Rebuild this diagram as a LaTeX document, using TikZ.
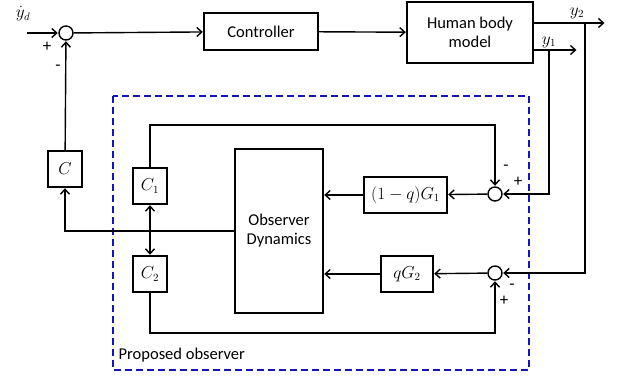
\documentclass[tikz,border=0pt]{standalone}
\usepackage{fontspec}
\setmainfont{Carlito}
\usetikzlibrary{arrows.meta}

\begin{document}
\begin{tikzpicture}[x=1pt,y=-1pt,shorten >=0.5pt,line width=1.4pt,>={Straight Barb[length=5pt,width=9pt]},
    font=\fontsize{16.5}{19}\selectfont]
    \tikzstyle{block}=[rectangle,draw=black,fill=white,minimum height=36pt,inner sep=2pt,align=center]
    \tikzstyle{sum}=[circle,draw=black,fill=white,minimum size=14pt,inner sep=0pt]
    \tikzstyle{sign}=[inner sep=0pt,font=\fontsize{17}{19}\selectfont]
    \tikzstyle{mathlbl}=[font=\fontsize{16}{18}\selectfont]
    \useasboundingbox (0,0) rectangle (619,380);

    % proposed observer frame
    \draw[line width=1.5pt,color={rgb,255:red,20;green,20;blue,190},dash pattern=on 7pt off 4pt]
        (113,96) rectangle (529,370);
    \node[anchor=west,inner sep=0pt] (po) at (118,355) {Proposed observer};

    % summing junctions
    \foreach \num/\x/\y in {0/66/33, 1/495/194, 2/495/273}
        \node[sum] (S-\num) at (\x,\y) {};

    % blocks
    \node[block,minimum width=114pt,minimum height=37pt] (ctrl) at (261,31.5) {Controller};
    \node[block,minimum width=126pt,minimum height=61pt] (hbm) at (470,32.5) {Human body\\model};
    \node[block,minimum width=88pt,minimum height=164pt] (obs) at (279,231) {Observer\\Dynamics};
    \node[block,mathlbl,minimum width=83pt] (G-1) at (405.5,195) {$(1-q)G_1$};
    \node[block,mathlbl,minimum width=52pt] (G-2) at (407,274) {$qG_2$};
    \node[block,mathlbl,minimum width=34pt] (C) at (65,169) {$C$};
    \foreach \num/\y in {1/186, 2/274}
        \node[block,mathlbl,minimum width=34pt] (C-\num) at (150,\y) {$C_\num$};

    % free ends and corners
    \coordinate (in) at (27,33);
    \coordinate (y2) at (605,23);
    \coordinate (y1) at (577,50);
    \coordinate (b2) at (585,23);
    \coordinate (b1) at (549,50);
    \coordinate (t1) at (495,125);
    \coordinate (t2) at (495,333);
    \coordinate (j) at (150,231);

    % forward path
    \draw[->] (in) -- (S-0);
    \draw[->] (S-0) -- (ctrl);
    \draw[->] (ctrl) -- (hbm);
    \draw[->] (hbm.east |- y2) -- (y2);
    \draw[->] (hbm.east |- y1) -- (y1);

    % measurements into the observer
    \draw[->] (b1) |- (S-1);
    \draw[->] (b2) |- (S-2);
    \draw[->] (S-1) -- (G-1);
    \draw[->] (S-2) -- (G-2);
    \draw[->] (G-1) -- (G-1 -| obs.east);
    \draw[->] (G-2) -- (G-2 -| obs.east);

    % observer outputs
    \draw[->] (obs.west) -| (C);
    \draw[->] (C) -- (S-0);
    \draw[->] (j) -- (C-1);
    \draw[->] (j) -- (C-2);
    \draw[->] (C-1) |- (t1) -- (S-1);
    \draw[->] (C-2) |- (t2) -- (S-2);

    % labels
    \node[mathlbl,inner sep=0pt] (yd) at (23,14) {$\dot{y}_d$};
    \node[mathlbl,inner sep=0pt] (y2l) at (577,13) {$y_2$};
    \node[mathlbl,inner sep=0pt] (y1l) at (549,42) {$y_1$};
    \foreach \name/\x/\y/\s in {p0/47/47/+, m0/58/68/-, m1/506/168/-, p1/518/182/+, m2/512/287/-, p2/504/301/+}
        \node[sign] (\name) at (\x,\y) {\s};

    % \draw[help lines] (0,0) grid[step=50] (619,380);
\end{tikzpicture}
\end{document}
